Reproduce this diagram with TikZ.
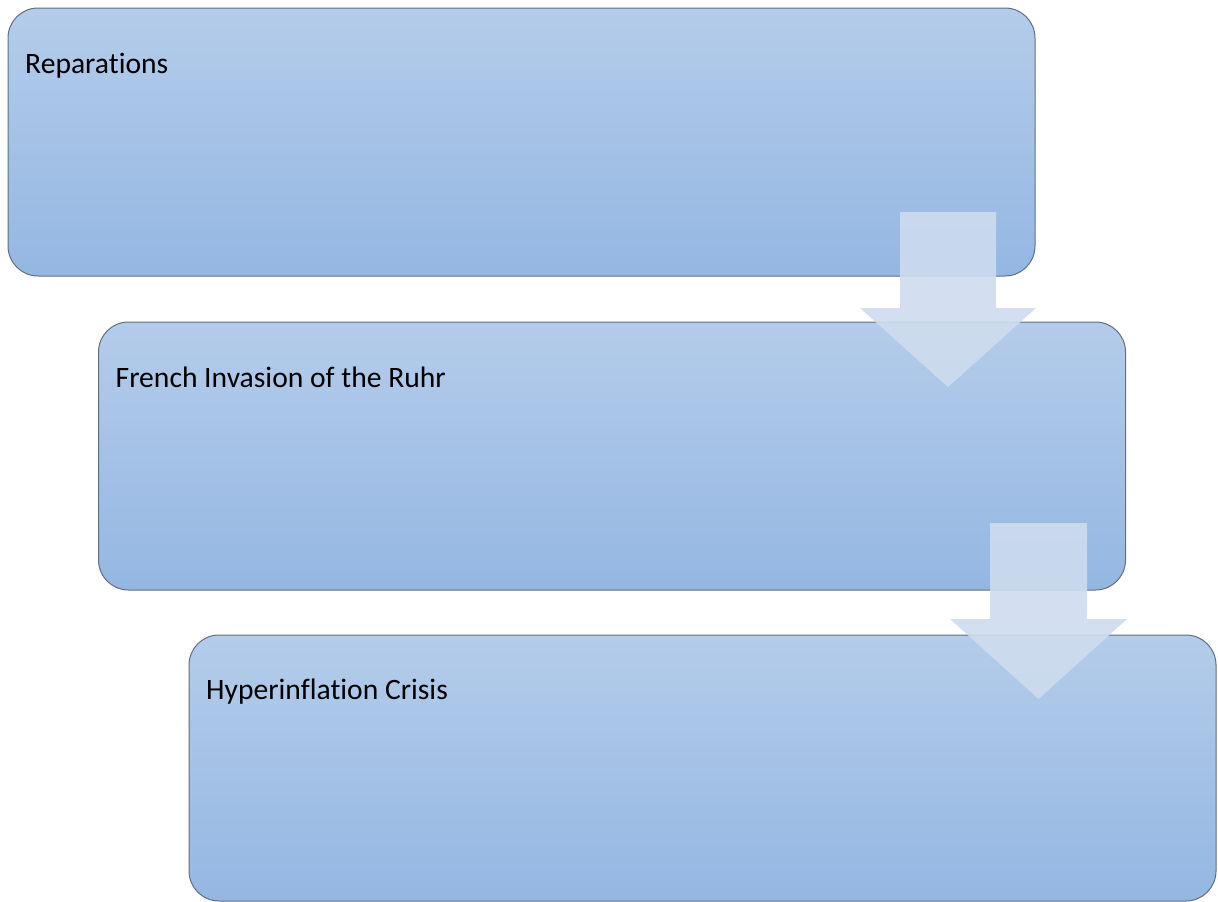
\documentclass[tikz,border=0pt]{standalone}
\usepackage{fontspec}
\setmainfont[Ligatures=NoCommon]{Carlito}
\definecolor{boxtop}{RGB}{180,204,234}
\definecolor{boxbot}{RGB}{148,183,226}
\definecolor{boxline}{RGB}{96,110,128}
\definecolor{arrowfill}{RGB}{206,220,238}
\begin{document}
\begin{tikzpicture}[x=1pt,y=-1pt,
  box/.style={draw=boxline, line width=1pt, rounded corners=30pt,
    top color=boxtop, bottom color=boxbot, inner sep=0pt, outer sep=0pt,
    minimum width=1027pt, minimum height=268pt},
  lbl/.style={anchor=base west, inner sep=0pt, font=\fontsize{29.6}{34}\selectfont},
  downarrow/.style={fill=arrowfill, fill opacity=0.9}]
\useasboundingbox (0,0) rectangle (1218,902);
\node[box] (b1) at (521.5,142) {};
\node[box] (b2) at (612,456) {};
\node[box, minimum height=266pt] (b3) at (702.5,768) {};
\node[lbl] (t1) at ([xshift=17pt,yshift=-65pt]b1.north west) {Reparations};
\node[lbl] (t2) at ([xshift=17pt,yshift=-65pt]b2.north west) {French Invasion of the Ruhr};
\node[lbl] (t3) at ([xshift=17pt,yshift=-64pt]b3.north west) {Hyperinflation Crisis};
\fill[downarrow] (900,212) -- (996,212) -- (996,308) -- (1036,308) -- (948,387) -- (860,308) -- (900,308) -- cycle;
\fill[downarrow] (990,523) -- (1087,523) -- (1087,619) -- (1127,619) -- (1038.5,699) -- (950,619) -- (990,619) -- cycle;
\end{tikzpicture}
\end{document}
